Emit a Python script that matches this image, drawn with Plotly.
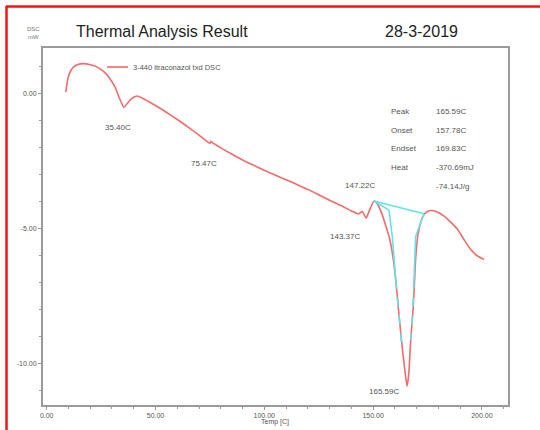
import plotly.graph_objects as go

# ---- data ----
temp = [8.8, 9.5, 10.5, 12, 14, 17, 20, 23, 26, 29, 31.5, 33.5, 35.5, 37, 39, 41.5, 44,
        50, 55, 60, 65, 70, 75, 75.5, 76, 80, 85, 90, 95, 100, 105, 110, 115, 120, 125,
        130, 135, 140, 143.4, 145, 146.8, 148.5, 150.4, 152, 154, 156, 157.5, 159, 160.4,
        162, 163.5, 164.8, 165.6, 166.4, 167.3, 168.2, 168.8, 169.5, 170.5, 172, 173.4,
        175, 176.5, 179, 182.6, 186, 188.8, 192, 194.9, 197.5, 201]
dsc = [0.05, 0.45, 0.75, 0.95, 1.06, 1.1, 1.06, 0.98, 0.82, 0.55, 0.22, -0.2, -0.52, -0.38,
       -0.2, -0.1, -0.18, -0.45, -0.7, -0.97, -1.25, -1.55, -1.85, -1.78, -1.82, -2.02,
       -2.25, -2.47, -2.66, -2.85, -3.03, -3.2, -3.38, -3.56, -3.76, -3.96, -4.15, -4.36,
       -4.47, -4.38, -4.62, -4.3, -3.99, -4.1, -4.45, -4.95, -5.35, -6.0, -6.9, -8.3, -9.5,
       -10.4, -10.85, -10.4, -9.13, -8.2, -7.4, -6.2, -5.3, -4.75, -4.49, -4.38, -4.34,
       -4.38, -4.55, -4.8, -5.04, -5.45, -5.79, -6.0, -6.16]

base_t = [150.4, 173.4]
base_y = [-3.99, -4.46]
left_t = [150.4, 157.3, 158.8, 160.4]
left_y = [-3.99, -4.33, -5.29, -6.9]
left_dash_t = [160.4, 162.0, 163.4]
left_dash_y = [-6.9, -8.3, -9.5]
right_t = [173.4, 169.6, 168.8]
right_y = [-4.46, -5.29, -6.9]
right_dash_t = [168.8, 168.2, 167.3]
right_dash_y = [-6.9, -8.2, -9.13]

peak_labels = ["35.40C", "75.47C", "147.22C", "143.37C", "165.59C"]
peak_lab_t = [32.7, 72.4, 143.9, 137.3, 155.0]
peak_lab_y = [-1.26, -2.59, -3.43, -5.29, -11.06]

info_keys = ["Peak", "Onset", "Endset", "Heat", ""]
info_vals = ["165.59C", "157.78C", "169.83C", "-370.69mJ", "-74.14J/g"]

x_ticks = [0, 50, 100, 150, 200]
x_tick_text = ["0.00", "50.00", "100.00", "150.00", "200.00"]
y_ticks = [0, -5, -10]
y_tick_text = ["0.00", "-5.00", "-10.00"]

series_name = "3-440 itraconazol txd DSC"
FONT = "Liberation Sans, Arial"
RED = "#f26b6b"
CYAN = "#5fe3ea"
GREY = "#9a9a9a"
TXT = "#555555"

fig = go.Figure()
fig.add_trace(go.Scatter(x=temp, y=dsc, mode="lines", name=series_name, showlegend=False,
                         line=dict(color=RED, width=1.6, shape="spline", smoothing=0.5)))
for tt, yy, dash in [(base_t, base_y, "solid"), (left_t, left_y, "solid"),
                     (right_t, right_y, "solid"), (left_dash_t, left_dash_y, "dash"),
                     (right_dash_t, right_dash_y, "dash")]:
    fig.add_trace(go.Scatter(x=tt, y=yy, mode="lines", showlegend=False,
                             line=dict(color=CYAN, width=1.6, dash=dash)))

ann = []
for lab, t, y in zip(peak_labels, peak_lab_t, peak_lab_y):
    ann.append(dict(x=t, y=y, xref="x", yref="y", text=lab, showarrow=False,
                    font=dict(size=8, color=TXT, family=FONT)))

row0 = -0.68
dy = 0.69
for i, (k, v) in enumerate(zip(info_keys, info_vals)):
    yy = row0 - i * dy
    if k:
        ann.append(dict(x=157.3, y=yy, xref="x", yref="y", text=k, showarrow=False,
                        xanchor="left", font=dict(size=8, color=TXT, family=FONT)))
    ann.append(dict(x=178.0, y=yy, xref="x", yref="y", text=v, showarrow=False,
                    xanchor="left", font=dict(size=8, color=TXT, family=FONT)))

L, R, T, B = 43, 32, 48, 25
W, H = 540 - L - R, 430 - T - B


def px(x):
    return (x - L) / W


def py(y):
    return (430 - B - y) / H


def paper_text(text, x, y, size, color, xanchor="left"):
    return dict(x=px(x), y=py(y), xref="paper", yref="paper", text=text, showarrow=False,
                xanchor=xanchor, yanchor="middle", font=dict(size=size, color=color, family=FONT))


ann.append(paper_text("Thermal Analysis Result", 74, 32, 16, "#222222"))
ann.append(paper_text("28-3-2019", 383, 32, 16, "#222222"))
ann.append(paper_text("DSC<br>mW", 33, 33, 6, "#777777", "center"))
ann.append(paper_text("Temp [C]", 275, 422, 7, TXT, "center"))
ann.append(paper_text(series_name, 131, 67, 7.5, TXT))

shapes = [
    dict(type="line", xref="paper", yref="paper", x0=px(6), x1=px(540), y0=py(6.5), y1=py(6.5),
         line=dict(color="#ff1010", width=2.5)),
    dict(type="line", xref="paper", yref="paper", x0=px(6.5), x1=px(6.5), y0=py(6), y1=py(432),
         line=dict(color="#ff1010", width=2.5)),
    # legend key line
    dict(type="line", xref="paper", yref="paper", x0=px(107), x1=px(128), y0=py(67), y1=py(67),
         line=dict(color=RED, width=1.6)),
]

fig.update_layout(
    width=540, height=430,
    margin=dict(l=L, r=R, t=T, b=B),
    paper_bgcolor="white", plot_bgcolor="white",
    font=dict(family=FONT, color=TXT),
    showlegend=False,
    annotations=ann,
    shapes=shapes,
    xaxis=dict(range=[-1.7, 212], tickvals=x_ticks, ticktext=x_tick_text,
               showgrid=False, zeroline=False, showline=True, linecolor=GREY,
               linewidth=2, mirror=True, ticks="outside", ticklen=3, tickcolor=GREY,
               tickfont=dict(size=7, color=TXT, family=FONT),
               minor=dict(dtick=10, ticks="outside", ticklen=2, tickcolor=GREY)),
    yaxis=dict(range=[-11.55, 1.68], tickvals=y_ticks, ticktext=y_tick_text,
               showgrid=False, zeroline=False, showline=True, linecolor=GREY,
               linewidth=2, mirror=True, ticks="outside", ticklen=3, tickcolor=GREY,
               tickfont=dict(size=7, color=TXT, family=FONT),
               minor=dict(dtick=1, ticks="outside", ticklen=2, tickcolor=GREY)),
)

fig.write_html("out.html", config={"displayModeBar": False},
               post_script="document.body.style.margin='0';")
